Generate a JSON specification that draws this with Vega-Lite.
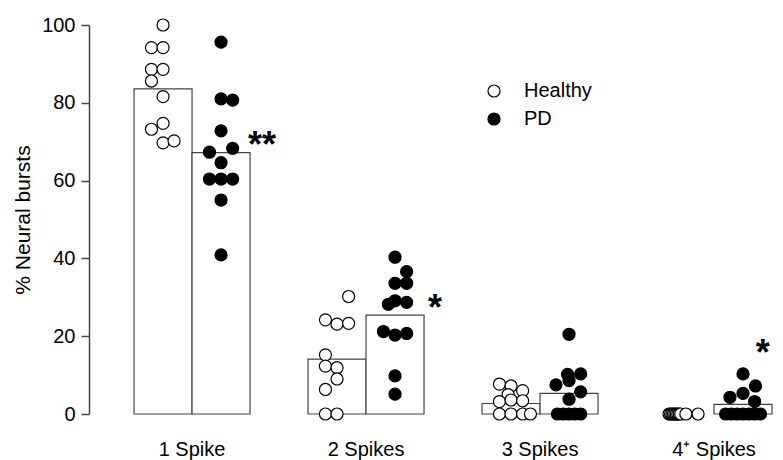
{
  "$schema": "https://vega.github.io/schema/vega-lite/v6.json",
  "width": 694,
  "height": 389,
  "autosize": {"type": "none"},
  "padding": {"left": 89, "top": 25, "right": 0, "bottom": 46},
  "background": "white",
  "config": {"view": {"stroke": null}, "font": "Liberation Sans"},
  "datasets": {
    "bars": [
      {"spikes": "1 Spike", "group": "Healthy", "pct": 83.6},
      {"spikes": "1 Spike", "group": "PD", "pct": 67.2},
      {"spikes": "2 Spikes", "group": "Healthy", "pct": 14.1},
      {"spikes": "2 Spikes", "group": "PD", "pct": 25.4},
      {"spikes": "3 Spikes", "group": "Healthy", "pct": 2.7},
      {"spikes": "3 Spikes", "group": "PD", "pct": 5.3},
      {"spikes": "4⁺ Spikes", "group": "PD", "pct": 2.5}
    ],
    "points": [
      {"spikes": "1 Spike", "group": "Healthy", "pos": -1, "pct": 100},
      {"spikes": "1 Spike", "group": "Healthy", "pos": -1.4, "pct": 94.2},
      {"spikes": "1 Spike", "group": "Healthy", "pos": -1, "pct": 94.2},
      {"spikes": "1 Spike", "group": "Healthy", "pos": -1.4, "pct": 88.6},
      {"spikes": "1 Spike", "group": "Healthy", "pos": -1, "pct": 88.6},
      {"spikes": "1 Spike", "group": "Healthy", "pos": -1.4, "pct": 85.6},
      {"spikes": "1 Spike", "group": "Healthy", "pos": -1, "pct": 81.6},
      {"spikes": "1 Spike", "group": "Healthy", "pos": -1, "pct": 74.7},
      {"spikes": "1 Spike", "group": "Healthy", "pos": -1.4, "pct": 73.2},
      {"spikes": "1 Spike", "group": "Healthy", "pos": -1, "pct": 69.7},
      {"spikes": "1 Spike", "group": "Healthy", "pos": -0.62, "pct": 70.2},
      {"spikes": "1 Spike", "group": "PD", "pos": 1, "pct": 95.6},
      {"spikes": "1 Spike", "group": "PD", "pos": 1, "pct": 81.0},
      {"spikes": "1 Spike", "group": "PD", "pos": 1.4, "pct": 80.7},
      {"spikes": "1 Spike", "group": "PD", "pos": 1, "pct": 72.8},
      {"spikes": "1 Spike", "group": "PD", "pos": 0.6, "pct": 67.3},
      {"spikes": "1 Spike", "group": "PD", "pos": 1.4, "pct": 68.3},
      {"spikes": "1 Spike", "group": "PD", "pos": 1, "pct": 64.6},
      {"spikes": "1 Spike", "group": "PD", "pos": 0.6, "pct": 60.4},
      {"spikes": "1 Spike", "group": "PD", "pos": 1, "pct": 60.4},
      {"spikes": "1 Spike", "group": "PD", "pos": 1.4, "pct": 60.4},
      {"spikes": "1 Spike", "group": "PD", "pos": 1, "pct": 55.0},
      {"spikes": "1 Spike", "group": "PD", "pos": 1, "pct": 40.9},
      {"spikes": "2 Spikes", "group": "Healthy", "pos": -0.6, "pct": 30.2},
      {"spikes": "2 Spikes", "group": "Healthy", "pos": -1.4, "pct": 24.2},
      {"spikes": "2 Spikes", "group": "Healthy", "pos": -1, "pct": 23.1},
      {"spikes": "2 Spikes", "group": "Healthy", "pos": -0.6, "pct": 23.3},
      {"spikes": "2 Spikes", "group": "Healthy", "pos": -1.4, "pct": 15.2},
      {"spikes": "2 Spikes", "group": "Healthy", "pos": -1.4, "pct": 12.3},
      {"spikes": "2 Spikes", "group": "Healthy", "pos": -1, "pct": 11.9},
      {"spikes": "2 Spikes", "group": "Healthy", "pos": -1, "pct": 9.0},
      {"spikes": "2 Spikes", "group": "Healthy", "pos": -1.4, "pct": 6.3},
      {"spikes": "2 Spikes", "group": "Healthy", "pos": -1.4, "pct": 0},
      {"spikes": "2 Spikes", "group": "Healthy", "pos": -1, "pct": 0},
      {"spikes": "2 Spikes", "group": "PD", "pos": 1, "pct": 40.3},
      {"spikes": "2 Spikes", "group": "PD", "pos": 1.4, "pct": 36.6},
      {"spikes": "2 Spikes", "group": "PD", "pos": 1, "pct": 33.6},
      {"spikes": "2 Spikes", "group": "PD", "pos": 1.4, "pct": 33.6},
      {"spikes": "2 Spikes", "group": "PD", "pos": 0.77, "pct": 28.2},
      {"spikes": "2 Spikes", "group": "PD", "pos": 1, "pct": 29.1},
      {"spikes": "2 Spikes", "group": "PD", "pos": 1.4, "pct": 28.7},
      {"spikes": "2 Spikes", "group": "PD", "pos": 0.6, "pct": 21.2},
      {"spikes": "2 Spikes", "group": "PD", "pos": 1, "pct": 20.3},
      {"spikes": "2 Spikes", "group": "PD", "pos": 1.4, "pct": 20.7},
      {"spikes": "2 Spikes", "group": "PD", "pos": 1, "pct": 9.8},
      {"spikes": "2 Spikes", "group": "PD", "pos": 1, "pct": 5.1},
      {"spikes": "3 Spikes", "group": "Healthy", "pos": -1.4, "pct": 7.7},
      {"spikes": "3 Spikes", "group": "Healthy", "pos": -1, "pct": 7.2},
      {"spikes": "3 Spikes", "group": "Healthy", "pos": -0.6, "pct": 6.0},
      {"spikes": "3 Spikes", "group": "Healthy", "pos": -1.1, "pct": 5.0},
      {"spikes": "3 Spikes", "group": "Healthy", "pos": -1.4, "pct": 3.2},
      {"spikes": "3 Spikes", "group": "Healthy", "pos": -1, "pct": 3.6},
      {"spikes": "3 Spikes", "group": "Healthy", "pos": -0.6, "pct": 3.4},
      {"spikes": "3 Spikes", "group": "Healthy", "pos": -1.4, "pct": 0},
      {"spikes": "3 Spikes", "group": "Healthy", "pos": -1, "pct": 0},
      {"spikes": "3 Spikes", "group": "Healthy", "pos": -0.6, "pct": 0},
      {"spikes": "3 Spikes", "group": "Healthy", "pos": -0.33, "pct": 0},
      {"spikes": "3 Spikes", "group": "PD", "pos": 1, "pct": 20.5},
      {"spikes": "3 Spikes", "group": "PD", "pos": 0.95, "pct": 10.2},
      {"spikes": "3 Spikes", "group": "PD", "pos": 1.4, "pct": 10.3},
      {"spikes": "3 Spikes", "group": "PD", "pos": 0.55, "pct": 7.5},
      {"spikes": "3 Spikes", "group": "PD", "pos": 1, "pct": 8.6},
      {"spikes": "3 Spikes", "group": "PD", "pos": 1.4, "pct": 5.7},
      {"spikes": "3 Spikes", "group": "PD", "pos": 1, "pct": 3.8},
      {"spikes": "3 Spikes", "group": "PD", "pos": 0.6, "pct": 0},
      {"spikes": "3 Spikes", "group": "PD", "pos": 0.8, "pct": 0},
      {"spikes": "3 Spikes", "group": "PD", "pos": 1, "pct": 0},
      {"spikes": "3 Spikes", "group": "PD", "pos": 1.2, "pct": 0},
      {"spikes": "3 Spikes", "group": "PD", "pos": 1.4, "pct": 0},
      {"spikes": "4⁺ Spikes", "group": "Healthy", "pos": -1.55, "pct": 0},
      {"spikes": "4⁺ Spikes", "group": "Healthy", "pos": -1.5, "pct": 0},
      {"spikes": "4⁺ Spikes", "group": "Healthy", "pos": -1.45, "pct": 0},
      {"spikes": "4⁺ Spikes", "group": "Healthy", "pos": -1.4, "pct": 0},
      {"spikes": "4⁺ Spikes", "group": "Healthy", "pos": -1.35, "pct": 0},
      {"spikes": "4⁺ Spikes", "group": "Healthy", "pos": -1.3, "pct": 0},
      {"spikes": "4⁺ Spikes", "group": "Healthy", "pos": -1.25, "pct": 0},
      {"spikes": "4⁺ Spikes", "group": "Healthy", "pos": -1.2, "pct": 0},
      {"spikes": "4⁺ Spikes", "group": "Healthy", "pos": -1.15, "pct": 0},
      {"spikes": "4⁺ Spikes", "group": "Healthy", "pos": -0.97, "pct": 0},
      {"spikes": "4⁺ Spikes", "group": "Healthy", "pos": -0.55, "pct": 0},
      {"spikes": "4⁺ Spikes", "group": "PD", "pos": 1, "pct": 10.3},
      {"spikes": "4⁺ Spikes", "group": "PD", "pos": 1.43, "pct": 7.2},
      {"spikes": "4⁺ Spikes", "group": "PD", "pos": 1, "pct": 5.3},
      {"spikes": "4⁺ Spikes", "group": "PD", "pos": 0.55, "pct": 4.3},
      {"spikes": "4⁺ Spikes", "group": "PD", "pos": 1.4, "pct": 3.2},
      {"spikes": "4⁺ Spikes", "group": "PD", "pos": 0.4, "pct": 0},
      {"spikes": "4⁺ Spikes", "group": "PD", "pos": 0.6, "pct": 0},
      {"spikes": "4⁺ Spikes", "group": "PD", "pos": 0.8, "pct": 0},
      {"spikes": "4⁺ Spikes", "group": "PD", "pos": 1.0, "pct": 0},
      {"spikes": "4⁺ Spikes", "group": "PD", "pos": 1.2, "pct": 0},
      {"spikes": "4⁺ Spikes", "group": "PD", "pos": 1.4, "pct": 0},
      {"spikes": "4⁺ Spikes", "group": "PD", "pos": 1.6, "pct": 0}
    ],
    "stars": [
      {"spikes": "1 Spike", "pos": 2.41, "pct": 70.4, "label": "**"},
      {"spikes": "2 Spikes", "pos": 2.38, "pct": 28.5, "label": "*"},
      {"spikes": "4⁺ Spikes", "pos": 1.68, "pct": 17, "label": "*"}
    ]
  },
  "layer": [
    {
      "data": {"name": "bars"},
      "mark": {"type": "bar", "fill": "white", "stroke": "#444444", "strokeWidth": 1.2},
      "encoding": {
        "x": {
          "field": "spikes", "type": "nominal",
          "sort": ["1 Spike", "2 Spikes", "3 Spikes", "4⁺ Spikes"],
          "scale": {"paddingInner": 0.3333, "paddingOuter": 0.161, "align": 0.804},
          "title": null,
          "axis": {"domain": false, "ticks": false, "labelAngle": 0, "labelPadding": 25, "labelFontSize": 20, "labelColor": "black", "labelFont": "Liberation Sans"}
        },
        "xOffset": {"field": "group", "type": "nominal", "sort": ["Healthy", "PD"], "scale": {"paddingInner": 0, "paddingOuter": 0}},
        "y": {
          "field": "pct", "type": "quantitative",
          "scale": {"domain": [0, 100]},
          "title": "% Neural bursts",
          "axis": {"values": [0, 20, 40, 60, 80, 100], "grid": false, "domainColor": "#444444", "domainWidth": 1.5, "tickColor": "#444444", "tickWidth": 1.5, "tickSize": 8, "labelPadding": 6, "labelFontSize": 20, "labelColor": "black", "labelFont": "Liberation Sans", "titleFontSize": 21, "titleFontWeight": "normal", "titleColor": "black", "titleFont": "Liberation Sans", "titlePadding": 8}
        }
      }
    },
    {
      "data": {"name": "points"},
      "mark": {"type": "point", "shape": "circle", "filled": true, "size": 145, "stroke": "black", "strokeWidth": 1.2, "opacity": 1},
      "encoding": {
        "x": {"field": "spikes", "type": "nominal", "sort": ["1 Spike", "2 Spikes", "3 Spikes", "4⁺ Spikes"]},
        "xOffset": {"field": "pos", "type": "quantitative", "scale": {"domain": [-2, 2]}},
        "y": {"field": "pct", "type": "quantitative"},
        "fill": {
          "field": "group", "type": "nominal",
          "scale": {"domain": ["Healthy", "PD"], "range": ["white", "black"]},
          "legend": {"orient": "none", "legendX": 395, "legendY": 56, "title": null, "symbolType": "circle", "symbolSize": 145, "symbolStrokeColor": "black", "symbolStrokeWidth": 1.2, "labelFontSize": 20, "labelFont": "Liberation Sans", "labelColor": "black", "labelOffset": 20, "rowPadding": 8}
        }
      }
    },
    {
      "data": {"name": "stars"},
      "mark": {"type": "text", "fontSize": 36, "fontWeight": "bold", "font": "Liberation Sans", "align": "center", "baseline": "alphabetic", "dy": 17, "color": "black"},
      "encoding": {
        "x": {"field": "spikes", "type": "nominal", "sort": ["1 Spike", "2 Spikes", "3 Spikes", "4⁺ Spikes"]},
        "xOffset": {"field": "pos", "type": "quantitative", "scale": {"domain": [-2, 2]}},
        "y": {"field": "pct", "type": "quantitative"},
        "text": {"field": "label"}
      }
    }
  ],
  "resolve": {"scale": {"xOffset": "independent"}}
}
